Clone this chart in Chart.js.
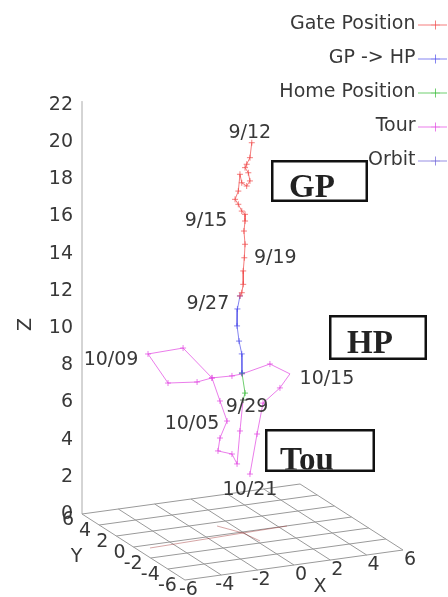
<!DOCTYPE html>
<html>
<head>
<meta charset="utf-8">
<script src="https://cdn.jsdelivr.net/npm/chart.js@4.4.1/dist/chart.umd.min.js"></script>
<style>
  html, body { margin: 0; padding: 0; background: #fff; }
  canvas { display: block; }
</style>
</head>
<body>
<canvas id="chart" width="448" height="597"></canvas>
<script>
// ---- Track data, each point is [x, y, z] ----
const gatePosition = [
  [0.51, 0, 20.86], [0.41, 0, 20.07], [0.23, 0, 19.74], [0.14, 0, 19.57], [0.32, 0, 19.27],
  [0.41, 0, 18.82], [0.23, 0, 18.57], [-0.04, 0, 18.78], [-0.14, 0, 19.25], [-0.23, 0, 18.36],
  [-0.41, 0, 17.94], [-0.23, 0, 17.65], [-0.04, 0, 17.26], [0.14, 0, 17.06], [0.14, 0, 16.70],
  [0.08, 0, 16.17], [0.14, 0, 15.45], [0.10, 0, 14.73], [0.04, 0, 14.03], [0.04, 0, 13.31],
  [-0.04, 0, 12.87], [-0.14, 0, 12.71]
];
const gpToHp = [
  [-0.14, 0, 12.71], [-0.28, 0, 12.03], [-0.30, 0, 11.12], [-0.19, 0, 10.29], [-0.04, 0, 9.58],
  [-0.03, 0, 8.55]
];
const homePosition = [
  [-0.03, 0, 8.55], [0.14, 0, 7.45], [0.03, 0, 7.09]
];
const tour = [
  [0.03, 0, 7.09], [-0.14, 0, 5.45], [-0.30, 0, 3.70], [-0.58, 0, 4.27], [-1.35, 0, 4.54],
  [-1.24, 0, 5.22], [-0.85, 0, 6.08], [-1.24, 0, 7.21], [-1.68, 0, 8.51], [-2.50, 0, 8.40],
  [-4.10, 0, 8.56], [-5.20, 0, 10.27], [-3.27, 0, 10.33], [-1.68, 0, 8.51], [-0.58, 0, 8.47],
  [-0.03, 0, 8.50], [1.51, 0, 8.83], [2.61, 0, 8.15], [2.06, 0, 7.47], [1.13, 0, 6.78],
  [0.80, 0, 5.16], [0.41, 0, 3.06]
];
const orbit = [];
const groundTrack = [
  [-5.32, -0.49, 0], [-0.05, -0.16, 0], [0.16, -1.71, 0], null,
  [-0.73, 1.42, 0], [-0.05, -0.16, 0], [2.44, -0.02, 0]
];

// ---- Axis ticks ----
const X_TICKS = [-6, -4, -2, 0, 2, 4, 6];
const Y_TICKS = [-6, -4, -2, 0, 2, 4, 6];
const Z_TICKS = [0, 2, 4, 6, 8, 10, 12, 14, 16, 18, 20, 22];
const Z_TOP = 22.2;

// ---- Date annotations, tied to a track point ----
const dateText = ['9/12', '9/15', '9/19', '9/27', '9/29', '10/05', '10/09', '10/15', '10/21'];
const dateAnchor = [
  { track: 'gate', index: 0, dx: -2, dy: -10 },
  { track: 'gate', index: 14, dx: -39, dy: 0 },
  { track: 'gate', index: 17, dx: 31, dy: 0 },
  { track: 'gate', index: 21, dx: -32, dy: 8 },
  { track: 'home', index: 2, dx: 4, dy: 7 },
  { track: 'tour', index: 6, dx: -35, dy: 3 },
  { track: 'tour', index: 11, dx: -37, dy: 6 },
  { track: 'tour', index: 17, dx: 37, dy: 5 },
  { track: 'tour', index: 21, dx: 0, dy: 16 }
];
const TRACKS = { gate: gatePosition, gphp: gpToHp, home: homePosition, tour: tour };

// ---- Framed tags ----
const callouts = [
  { text: 'GP', left: 271, top: 160, width: 97, height: 42, textX: 289, baseline: 197 },
  { text: 'HP', left: 329, top: 315, width: 98, height: 45, textX: 347, baseline: 353 },
  { text: 'Tou', left: 265, top: 429, width: 110, height: 43, textX: 280, baseline: 470 }
];

// ---- Oblique view of the box ----
const PX = 18.6;                       // pixels per unit on the vertical axis
const Z_BASE_PX = 514;                 // pixel row of z = 0 at the back-left corner
const AXIS_LEFT_PX = 82;               // pixel column of the vertical axis
const VIEW = { xu: 18.17 / PX, xv: 2.5 / PX, yu: -8.58 / PX, yv: 5.5 / PX, lift: -18 / PX };
function project(p) {
  if (!p) return { x: null, y: null };
  const [x, y, z] = p;
  return { x: x * VIEW.xu + y * VIEW.yu, y: z + x * VIEW.xv + y * VIEW.yv + VIEW.lift };
}
const CORNER = [-6, 6, 0];             // foot of the vertical axis

function baseGrid() {
  const pts = [];
  X_TICKS.forEach(v => { pts.push(project([v, -6, 0]), project([v, 6, 0]), { x: null, y: null }); });
  Y_TICKS.forEach(v => { pts.push(project([-6, v, 0]), project([6, v, 0]), { x: null, y: null }); });
  return pts;
}

const TEXT_FONT = '19px "DejaVu Sans", sans-serif';
const TEXT_COLOR = '#383838';

const SERIES = [
  { label: 'Gate Position', points: gatePosition, color: 'rgba(240,70,70,0.7)' },
  { label: 'GP -> HP', points: gpToHp, color: 'rgba(80,80,235,0.7)' },
  { label: 'Home Position', points: homePosition, color: 'rgba(50,185,50,0.7)' },
  { label: 'Tour', points: tour, color: 'rgba(225,70,225,0.7)' },
  { label: 'Orbit', points: orbit, color: 'rgba(105,95,215,0.7)' }
];

function legendSample(color) {
  const c = document.createElement('canvas');
  c.width = 40; c.height = 12;
  const g = c.getContext('2d');
  g.strokeStyle = color; g.lineWidth = 1;
  g.beginPath();
  g.moveTo(9, 6.5); g.lineTo(38, 6.5);
  g.moveTo(26.5, 2); g.lineTo(26.5, 11);
  g.moveTo(22, 6.5); g.lineTo(31, 6.5);
  g.stroke();
  return c;
}

const datasets = SERIES.map(s => ({
  label: s.label,
  data: s.points.map(project),
  showLine: true,
  borderColor: s.color,
  backgroundColor: s.color,
  borderWidth: 1,
  pointStyle: 'cross',
  pointRadius: 3,
  pointBorderWidth: 1,
  pointBorderColor: s.color,
  clip: false,
  order: 0
}));
datasets.push({
  label: 'base', data: baseGrid(), showLine: true, borderColor: '#9a9a9a', borderWidth: 1,
  pointRadius: 0, spanGaps: false, clip: false, order: 3
});
datasets.push({
  label: 'z axis', data: [project(CORNER), project([CORNER[0], CORNER[1], Z_TOP])], showLine: true,
  borderColor: '#aaaaaa', borderWidth: 1, pointRadius: 0, clip: false, order: 3
});
datasets.push({
  label: 'ground', data: groundTrack.map(project), showLine: true, borderColor: 'rgba(150,30,30,0.4)',
  borderWidth: 1, pointRadius: 0, spanGaps: false, clip: false, order: 2
});

// Keep one unit = PX pixels on both scales, pinned to the axis foot.
const viewLock = {
  id: 'viewLock',
  afterLayout(chart) {
    const a = chart.chartArea;
    const sx = chart.scales.x, sy = chart.scales.y;
    sx.min = project(CORNER).x - (a.left - AXIS_LEFT_PX) / PX;
    sx.max = sx.min + (a.right - a.left) / PX;
    sy.max = (Z_BASE_PX - a.top) / PX;
    sy.min = sy.max - (a.bottom - a.top) / PX;
    sx.configure();
    sy.configure();
  }
};

const overlay = {
  id: 'overlay',
  afterDraw(chart) {
    const { ctx } = chart;
    const sx = chart.scales.x, sy = chart.scales.y;
    const toPx = p => { const q = project(p); return [sx.getPixelForValue(q.x), sy.getPixelForValue(q.y)]; };
    ctx.save();
    ctx.font = TEXT_FONT;
    ctx.fillStyle = TEXT_COLOR;
    ctx.textBaseline = 'middle';

    // tick labels on the floor edges
    ctx.textAlign = 'right';
    X_TICKS.forEach(v => { const [px, py] = toPx([v, -6, 0]); ctx.fillText(String(v), px + 13, py + 10); });
    Y_TICKS.forEach(v => { const [px, py] = toPx([-6, v, 0]); ctx.fillText(String(v), px - 8, py + 6.5); });

    // axis names
    ctx.textAlign = 'center';
    { const [px, py] = toPx([0, -6, 0]); ctx.fillText('X', px + 26, py + 22); }
    { const [px, py] = toPx([-6, 0, 0]); ctx.fillText('Y', px - 57, py + 10); }
    {
      const [px, py] = toPx([CORNER[0], CORNER[1], 11]);
      ctx.save(); ctx.translate(px - 56, py + 15); ctx.rotate(-Math.PI / 2);
      ctx.fillText('Z', 0, 0); ctx.restore();
    }

    // dates along the track
    dateText.forEach((t, i) => {
      const a = dateAnchor[i];
      const [px, py] = toPx(TRACKS[a.track][a.index]);
      ctx.fillText(t, px + a.dx, py + a.dy);
    });

    // framed tags
    callouts.forEach(b => {
      ctx.fillStyle = '#fff';
      ctx.fillRect(b.left, b.top, b.width, b.height);
      ctx.lineWidth = 2.5;
      ctx.strokeStyle = '#111';
      ctx.strokeRect(b.left + 1.25, b.top + 1.25, b.width - 2.5, b.height - 2.5);
      ctx.save();
      ctx.beginPath();
      ctx.rect(b.left + 2.5, b.top + 2.5, b.width - 5, b.height - 5);
      ctx.clip();
      ctx.font = 'bold 33px "Liberation Serif", serif';
      ctx.fillStyle = '#222';
      ctx.textAlign = 'left';
      ctx.textBaseline = 'alphabetic';
      ctx.fillText(b.text, b.textX, b.baseline);
      ctx.restore();
    });
    ctx.restore();
  }
};

Chart.defaults.font.family = '"DejaVu Sans", sans-serif';

new Chart(document.getElementById('chart'), {
  type: 'scatter',
  data: { datasets },
  options: {
    responsive: false,
    animation: false,
    events: [],
    devicePixelRatio: 1,
    layout: { padding: 0 },
    scales: {
      x: { type: 'linear', display: false, bounds: 'data' },
      y: {
        type: 'linear',
        position: 'left',
        bounds: 'data',
        min: -(597 - Z_BASE_PX) / PX,
        max: Z_BASE_PX / PX,
        afterBuildTicks(scale) { scale.ticks = Z_TICKS.map(v => ({ value: v })); },
        afterFit(scale) { scale.width = AXIS_LEFT_PX; scale.paddingTop = 0; scale.paddingBottom = 0; },
        border: { display: false },
        grid: { display: false, drawTicks: false },
        ticks: { padding: 9, color: TEXT_COLOR, font: { size: 19 } }
      }
    },
    plugins: {
      tooltip: { enabled: false },
      legend: {
        position: 'right',
        align: 'start',
        rtl: true,
        textDirection: 'ltr',
        maxWidth: 170,
        labels: {
          usePointStyle: true,
          pointStyleWidth: 8,
          padding: 15,
          color: TEXT_COLOR,
          font: { size: 19 },
          generateLabels(chart) {
            const items = Chart.defaults.plugins.legend.labels.generateLabels(chart);
            return items
              .filter(it => it.datasetIndex < SERIES.length)
              .map(it => Object.assign(it, { pointStyle: legendSample(SERIES[it.datasetIndex].color) }));
          }
        }
      }
    }
  },
  plugins: [viewLock, overlay]
});
</script>
</body>
</html>
